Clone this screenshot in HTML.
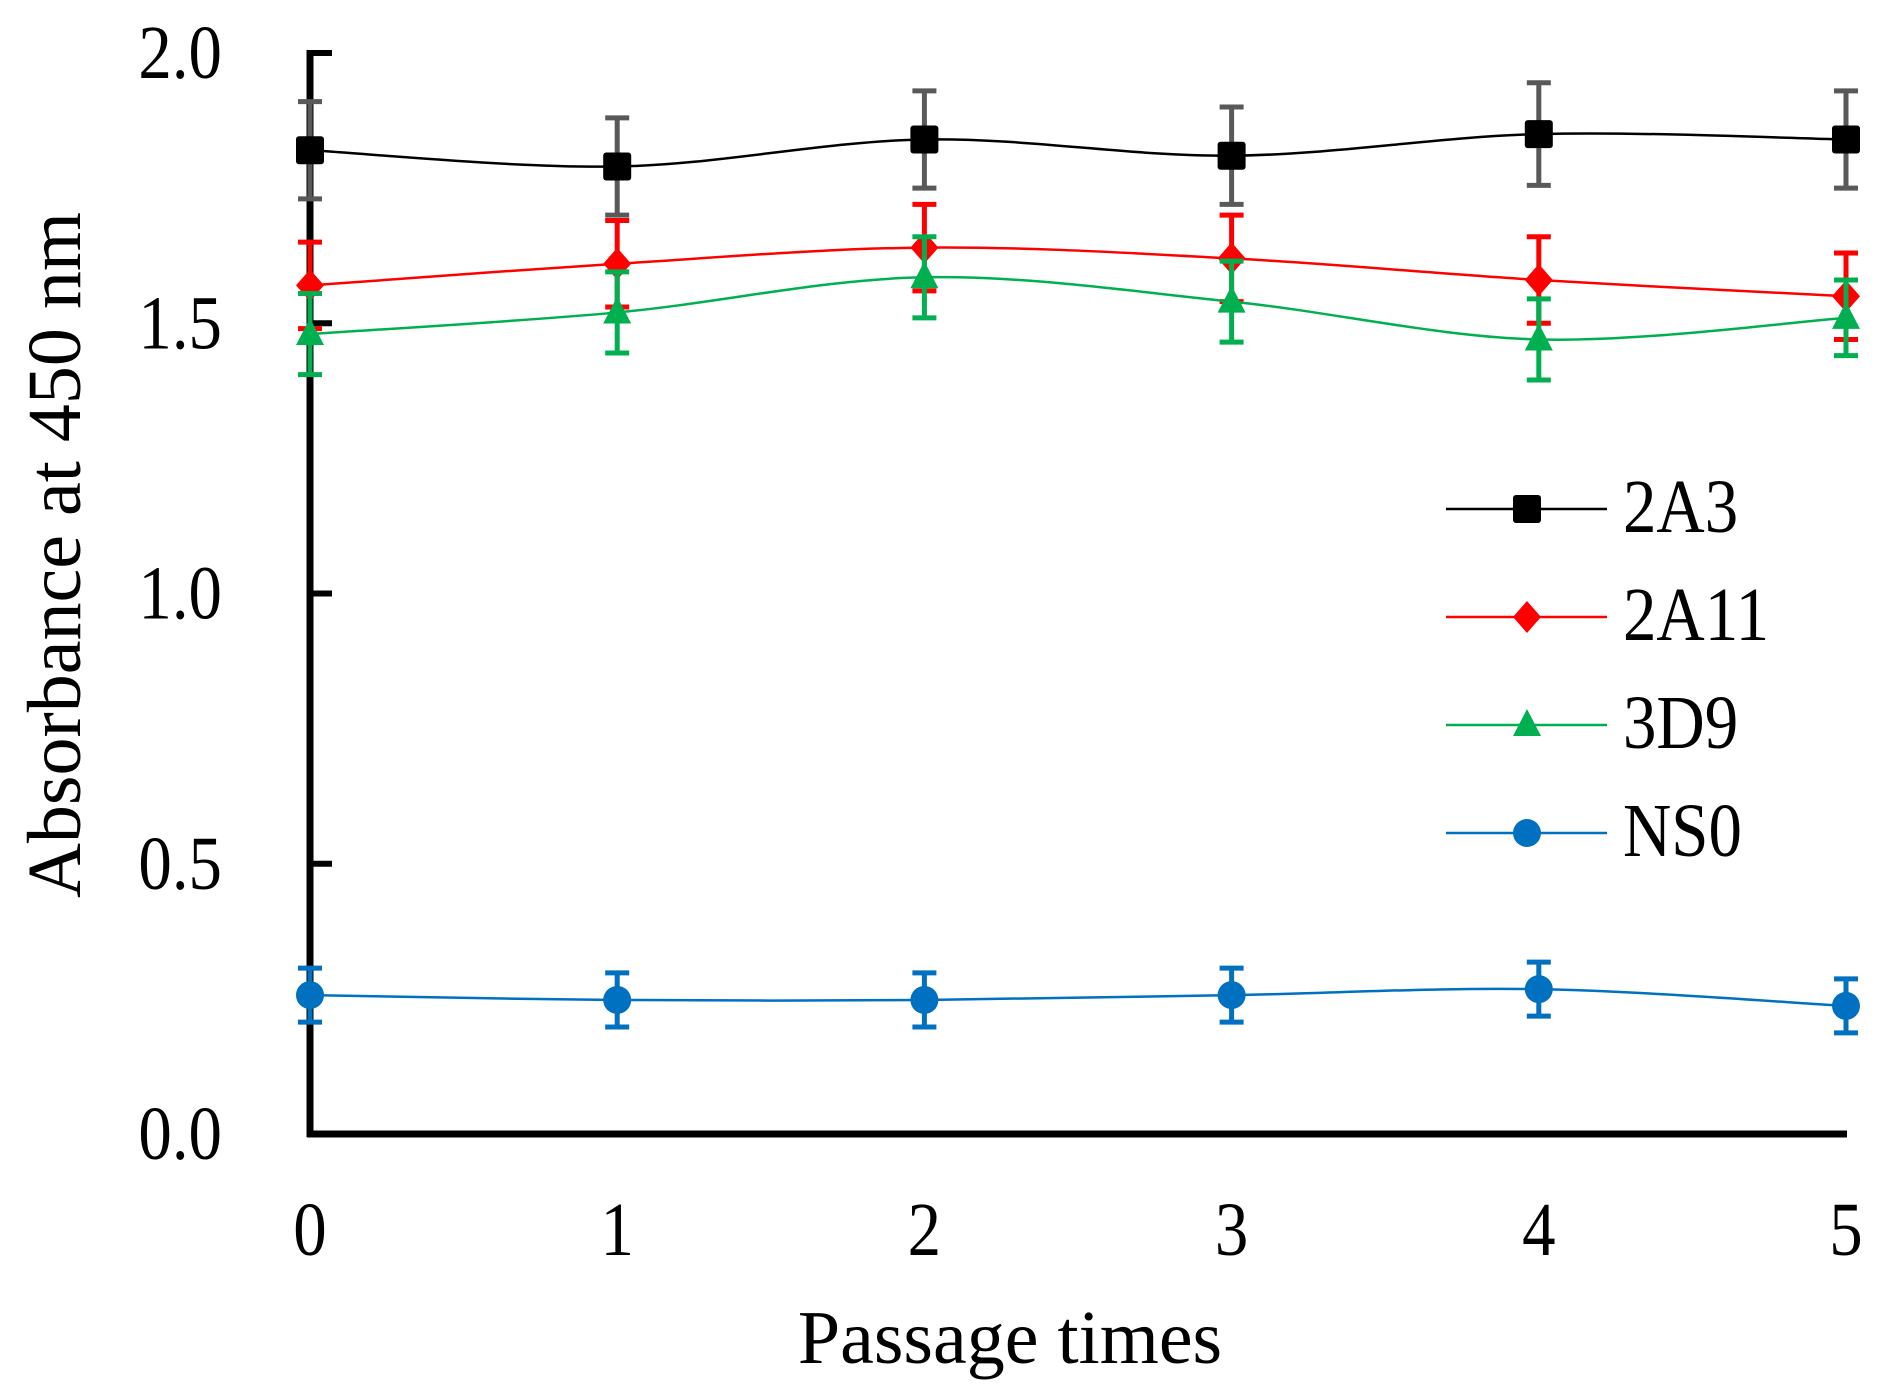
<!DOCTYPE html>
<html><head><meta charset="utf-8"><style>
body{margin:0;background:#fff}
svg{display:block;font-family:"Liberation Serif",serif}
</style></head><body>
<svg id="chart" width="1885" height="1395" viewBox="0 0 1885 1395" xmlns="http://www.w3.org/2000/svg"></svg>
<script>
const categories=[0,1,2,3,4,5];
const yTicks=["0.0","0.5","1.0","1.5","2.0"];
const s2A3=[1.82,1.79,1.84,1.81,1.85,1.84];
const e2A3=[0.09,0.09,0.09,0.09,0.095,0.09];
const s2A11=[1.57,1.61,1.64,1.62,1.58,1.55];
const e2A11=[0.08,0.08,0.08,0.08,0.08,0.08];
const s3D9=[1.48,1.52,1.585,1.54,1.47,1.51];
const e3D9=[0.075,0.075,0.075,0.075,0.075,0.07];
const sNS0=[0.257,0.248,0.248,0.257,0.268,0.237];
const eNS0=[0.05,0.05,0.05,0.05,0.05,0.05];
const seriesNames=["2A3","2A11","3D9","NS0"];

const NS="http://www.w3.org/2000/svg";
const svg=document.getElementById('chart');
const X0=310,X5=1846,Y0=1134,Y2=53;
const xs=v=>X0+(X5-X0)*v/5;
const ys=v=>Y0+(Y2-Y0)*v/2;
function el(tag,attrs,parent){const e=document.createElementNS(NS,tag);for(const k in attrs)e.setAttribute(k,attrs[k]);(parent||svg).appendChild(e);return e;}
function ctext(x,y,anchor,parent){return el('text',{x:0,y:0,'font-size':76,'text-anchor':anchor,transform:`translate(${x},${y}) scale(0.88,1)`},parent);}

const ax=el('g',{});


let yl=el('line',{x1:X0,y1:Y2-3,x2:X0,y2:Y0+3,stroke:'#000','stroke-width':7},ax);


let xl=el('line',{x1:X0-3,y1:Y0,x2:X5+1,y2:Y0,stroke:'#000','stroke-width':7},ax);


yTicks.forEach((t,i)=>{
  const v=parseFloat(t);const y=ys(v);
  if(i>0){el('line',{x1:X0,y1:y,x2:X0+22,y2:y,stroke:'#000','stroke-width':6},ax);}
  const tx=ctext(222,y+25,'end',ax);
  
  
  tx.textContent=t;
});
categories.forEach(c=>{
  const tx=ctext(xs(c),1255,'middle',ax);
  
  
  tx.textContent=c;
});
const yt=el('text',{x:0,y:0,'font-size':76,'text-anchor':'middle',transform:'translate(80,555) rotate(-90)'});


yt.textContent='Absorbance at 450 nm';
const xt=el('text',{x:1010,y:1363,'font-size':76,'text-anchor':'middle'});


xt.textContent='Passage times';

function smooth(pts){
  let d=`M${pts[0][0]},${pts[0][1]}`;
  for(let i=0;i<pts.length-1;i++){
    const p0=pts[i-1]||pts[i],p1=pts[i],p2=pts[i+1],p3=pts[i+2]||p2;
    const t=1/6;
    d+=` C${p1[0]+(p2[0]-p0[0])*t},${p1[1]+(p2[1]-p0[1])*t} ${p2[0]-(p3[0]-p1[0])*t},${p2[1]-(p3[1]-p1[1])*t} ${p2[0]},${p2[1]}`;
  }
  return d;
}
function marker(type,x,y,color,g){
  if(type==='square')return el('rect',{x:x-14,y:y-14,width:28,height:28,rx:3,fill:color},g);
  if(type==='diamond')return el('polygon',{points:`${x},${y-16} ${x+14},${y} ${x},${y+16} ${x-14},${y}`,fill:color},g);
  if(type==='triangle')return el('polygon',{points:`${x},${y-16} ${x+14},${y+11} ${x-14},${y+11}`,fill:color},g);
  return el('circle',{cx:x,cy:y,r:14,fill:color},g);
}
const defs=[
 {name:'2A3',vals:s2A3,err:e2A3,color:'#000',ecolor:'#595959',m:'square'},
 {name:'2A11',vals:s2A11,err:e2A11,color:'#ff0000',ecolor:'#ff0000',m:'diamond'},
 {name:'3D9',vals:s3D9,err:e3D9,color:'#00b050',ecolor:'#00b050',m:'triangle'},
 {name:'NS0',vals:sNS0,err:eNS0,color:'#0070c0',ecolor:'#0070c0',m:'circle'}];
defs.forEach((s,si)=>{
  const g=el('g',{});
  
  
  s.vals.forEach((v,i)=>{
    const x=xs(categories[i]),y1=ys(v+s.err[i]),y2=ys(v-s.err[i]);
    const eb=el('path',{d:`M${x},${y1} V${y2} M${x-12},${y1} H${x+12} M${x-12},${y2} H${x+12}`,stroke:s.ecolor,'stroke-width':5,fill:'none'},g);
    
    
  });
  const ln=el('path',{d:smooth(s.vals.map((v,i)=>[xs(categories[i]),ys(v)])),stroke:s.color,'stroke-width':2.5,fill:'none'},g);
  
  
  s.vals.forEach((v,i)=>{
    const m=marker(s.m,xs(categories[i]),ys(v),s.color,g);
    
    
  });
  const ly=509+si*108;
  const lg=el('g',{});
  
  
  el('line',{x1:1446,y1:ly,x2:1607,y2:ly,stroke:s.color,'stroke-width':2.5},lg);
  marker(s.m,1527,ly,s.color,lg);
  const lt=ctext(1623,ly+23,'start',lg);
  lt.textContent=seriesNames[si];
});
</script>
</body></html>
